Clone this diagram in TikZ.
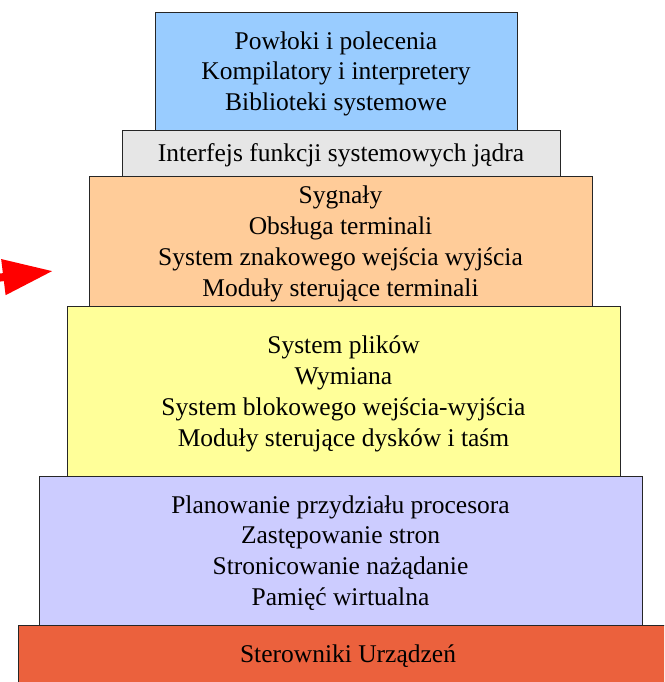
\documentclass[tikz,border=0pt]{standalone}
\usepackage{fontspec}
\setmainfont{Liberation Serif}
\usetikzlibrary{positioning,arrows.meta}

\definecolor{shellblue}{HTML}{99CCFF}
\definecolor{ifacegrey}{HTML}{E6E6E6}
\definecolor{ttyorange}{HTML}{FFCC99}
\definecolor{fsyellow}{HTML}{FFFF99}
\definecolor{memlilac}{HTML}{CCCCFF}
\definecolor{devred}{HTML}{EB613D}

\begin{document}
\begin{tikzpicture}[x=1pt, y=-1pt
        , every node/.style={font=\fontsize{25.5}{30.8}\selectfont}
        , layer/.style={draw=black!85, line width=0.8pt, align=center, inner sep=0pt, outer sep=0pt}
        ]
        \useasboundingbox (0,0) rectangle (664,682);
        \clip (0,0) rectangle (664,682);

        \node[layer, fill=shellblue, minimum width=362pt, minimum height=118pt, text depth=0pt] (shells) at (336,71)
            {Powłoki i polecenia\\Kompilatory i interpretery\\Biblioteki systemowe};
        \node[layer, fill=ifacegrey, minimum width=438pt, minimum height=46pt, text depth=1.5pt] (iface) at (341,153)
            {Interfejs funkcji systemowych jądra};
        \node[layer, fill=ttyorange, minimum width=503pt, minimum height=130pt, text depth=-10pt] (tty) at (340.5,241)
            {Sygnały\\Obsługa terminali\\System znakowego wejścia wyjścia\\Moduły sterujące terminali};
        \node[layer, fill=fsyellow, minimum width=553pt, minimum height=170pt, text depth=-8pt] (fs) at (343.5,391)
            {System plików\\Wymiana\\System blokowego wejścia-wyjścia\\Moduły sterujące dysków i taśm};
        \node[layer, fill=memlilac, minimum width=603pt, minimum height=149pt, text depth=-8pt] (mem) at (340.5,550.5)
            {Planowanie przydziału procesora\\Zastępowanie stron\\Stronicowanie nażądanie\\Pamięć wirtualna};
        \node[layer, fill=devred, minimum width=660pt, minimum height=70pt] (dev) at (348,660)
            {};
        \node (devtxt) at (348,656) {Sterowniki Urządzeń};

        \coordinate (tail) at (-20,280);
        \coordinate (tip) at (53,271);
        \draw[red, line width=8pt, -{Triangle[length=50pt,width=34pt]}] (tail) -- (tip);

    \end{tikzpicture}
\end{document}
